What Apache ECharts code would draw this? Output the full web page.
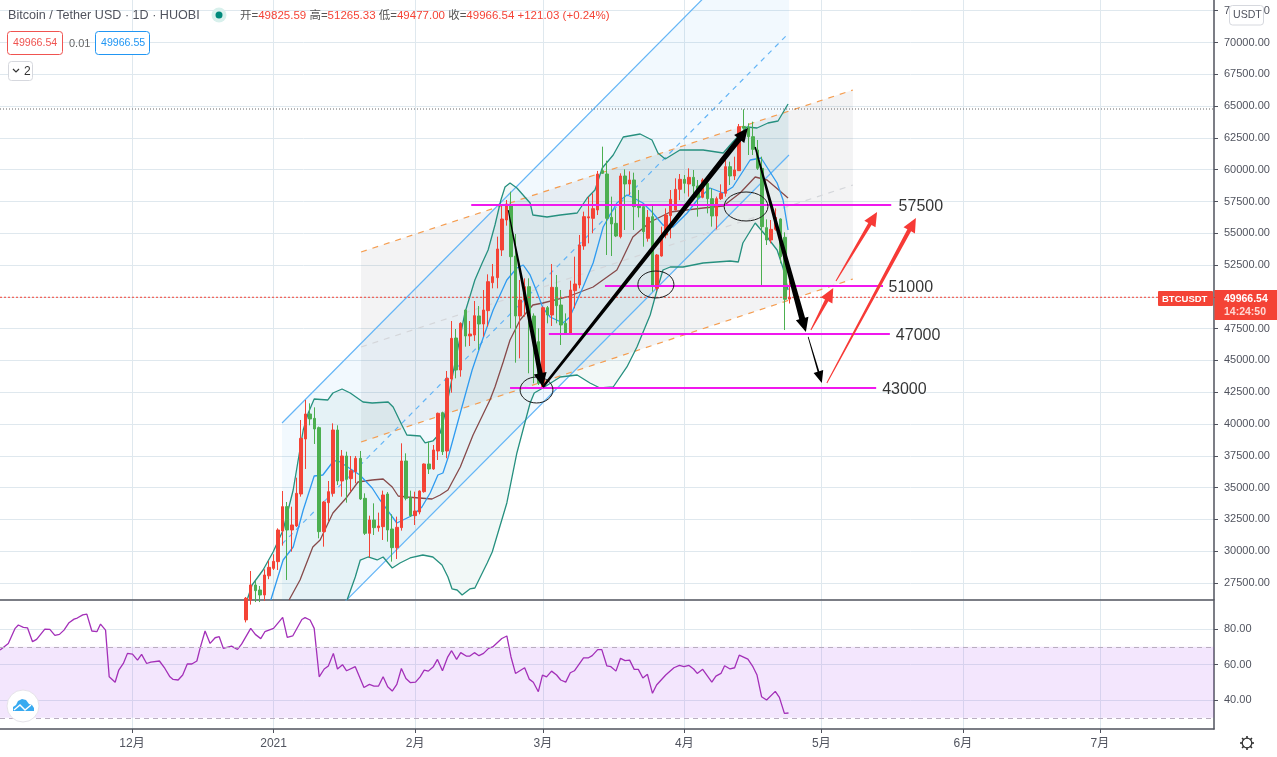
<!DOCTYPE html>
<html><head><meta charset="utf-8">
<style>html,body{margin:0;padding:0;background:#fff}#c{width:1277px;height:757px}</style>
<script src="https://cdn.jsdelivr.net/npm/echarts@6/dist/echarts.min.js"></script>
</head><body><div id="c"></div>
<script>
// x values are days counted from 2020-12-01
const monthDays = [0,31,62,90,121,151,182,212];
const monthLabels = ['12月','2021','2月','3月','4月','5月','6月','7月'];
const priceTicks = [27500,30000,32500,35000,37500,40000,42500,45000,47500,50000,52500,55000,57500,60000,62500,65000,67500,70000,72500];
const rsiTicks = [40,60,80];
const firstCandleDay = 25;
// open, close, low, high
const candles = [
[24600,26300,24400,26400],[26164,27344,25800,28444],[27344,26898,26000,27680],[26950,26557,26000,27265],[26557,28130,26100,28575],
[28065,28730,27800,29256],[28650,29204,28523,29755],[29178,31668,28523,31799],[31590,33503,30436,34735],[33503,31668,27737,33870],
[31668,32062,29965,33500],[31983,34551,31900,35783],[34499,38876,34289,40318],[38824,40789,36465,41890],[40789,40396,39900,41628],
[40448,39610,38430,41313],[39715,31537,31013,39800],[31537,33870,30358,33950],[33817,34682,32323,35521],[34551,39531,34289,40055],
[39531,35521,35206,39900],[35521,37487,34289,37958],[37487,35652,33817,37827],[35705,36334,34682,37487],[36255,37303,35337,37487],
[37303,34106,34027,37880],[34158,31406,31275,34551],[31406,32454,29519,32795],[32454,31852,31275,33765],[31852,31983,31537,33031],
[31930,34420,30882,34761],[34499,31668,30751,34650],[31747,30279,29179,32900],[30279,31878,29388,32717],[31852,37094,31616,38483],
[37094,34158,34000,37696],[34210,32795,32700,34761],[32795,33162,32061,34682],[33083,34735,32900,34780],[34682,36858,34600,36900],
[36858,36465,36072,38614],[36465,37958,36400,38352],[37880,40842,37172,40900],[40894,37827,37565,40970],[37880,43594,37303,44170],
[43541,46738,42466,48101],[46764,44248,43593,47472],[44248,47918,43724,48000],[48966,46922,46083,49000],[46922,47079,46135,48101],
[47000,48520,46529,49674],[48495,47865,45821,49280],[47865,48966,46869,50539],[48914,51194,47656,51771],[51115,51587,50670,52583],
[51508,53763,50670,54732],[53684,56121,53212,57222],[56043,57301,55600,57615],[57223,53160,47525,58271],[53212,48494,44825,54942],
[48494,49753,45166,51325],[49753,50801,48442,51456],[50801,48494,43987,51456],[48494,46600,43200,48700],[46476,43200,43069,47525],
[42938,49150,42800,49250],[49150,48573,47918,49280],[48573,50749,47708,52584],[50749,49307,47918,51719],[49360,47787,46214,50539],
[47918,47132,47100,48700],[47132,50539,47100,51273],[50487,51011,49097,53160],[50932,54077,50670,54864],[53999,56305,53700,56700],
[56208,56292,54208,57878],[56175,56935,55000,58140],[56830,59660,56436,59900],[59922,59713,59660,61810],[59660,56175,53291,60709],
[56253,55729,53212,57880],[55781,54785,54700,56961],[54733,59503,54600,59713],[59503,58874,55257,60027],[58874,59189,58009,59870],
[59189,57092,55257,59765],[57144,57013,56253,58402],[57092,55126,53946,57150],[54602,56253,54340,56830],[56305,50933,50408,57300],
[50670,53291,50480,53370],[53212,54812,53160,55519],[54864,56436,54602,56960],[56384,57668,54602,58402],[56830,58455,56800,59320],
[58455,59241,57600,59660],[59241,58927,58140,59580],[58874,59398,57879,60106],[59398,58717,57932,59975],[58717,57826,56305,59189],
[57826,59189,57750,59320],[58927,57721,56567,59189],[57721,56358,55519,58533],[56358,57721,55309,57879],[57721,58141,57616,58848],
[58141,60237,57879,60761],[60237,59503,58795,60630],[59503,59975,59188,61023],[59923,63382,59900,63592],[63400,63260,62203,64745],
[63330,62596,61154,63644],[62596,61600,61154,63775],[61547,60106,59975,62334],[60106,55519,50933,61023],[55440,54470,54078,56095],
[54470,55309,54208,56043],[55309,56253,55200,56960],[56122,53160,52636,56175],[54681,49805,47394,55074],[49825.59,49966.54,49477,51265.33]
];
const bbUpper = [[25.2,26164],[26.3,27343],[28.7,28522],[30.9,29937],[33.1,31668],[35.3,34813],[37.5,39531],[38.6,40868],[39.9,41969],[42.9,41890],[44,42440],[46,42755],[47.8,42440],[50.6,41733],[52.6,41654],[56.1,41733],[57.2,41340],[59.1,39924],[60.2,39138],[63.1,39059],[64.2,38509],[65.9,38666],[67.5,39295],[68.6,40868],[72.9,48730],[75.1,51325],[76.7,52662],[78,53684],[79.5,55650],[80.8,57616],[81.7,58638],[82.8,58953],[84.3,58559],[87.2,57380],[87.8,56436],[90.9,56279],[93.8,56436],[97.5,56594],[99.7,57773],[101.4,58402],[103,60132],[105.4,61154],[107.6,62570],[111.3,62806],[113.9,62334],[115.2,61312],[116.8,60840],[120,61547],[125.1,61547],[129.5,61312],[131.6,62177],[134.7,63356],[136.9,63277],[139.3,63670],[141.5,63828],[143.7,65164]];
const bbLower = [[47.1,26164],[48.9,27973],[50,29306],[51.7,29545],[53.7,29309],[55,29545],[57,28680],[58.7,29073],[60.9,29467],[63.7,29702],[65.9,29545],[67.9,28915],[69.2,27973],[70.1,27029],[71.2,26950],[72.3,26557],[74,27029],[75.1,27107],[77.8,29073],[78.9,29937],[82.1,33791],[84.3,37723],[87.2,41654],[88.1,42440],[90,42834],[93.8,43698],[97.5,43856],[100.3,43227],[102.5,42834],[105.4,42912],[108.4,44485],[110.6,46057],[113.5,48574],[115,50539],[116.3,52112],[117.9,52348],[120.7,52348],[125.1,52662],[131,52819],[132.8,52741],[133.8,54235],[136.5,55807],[139.1,54707],[141.3,53684],[142.6,52269],[143.7,50539]];
const bbBasis = [[34.4,26164],[36.8,27737],[39.6,30332],[41.2,30882],[44,33005],[47.1,34263],[49.5,35442],[52.6,35599],[55,35678],[57,35049],[58.3,34342],[60.2,34263],[65.7,34105],[67.5,34420],[69.2,34813],[71.9,36622],[74.7,39138],[78.4,41890],[79.5,42912],[81.3,44878],[82.8,46608],[85,48180],[87.8,49360],[90,49517],[95.3,49989],[101,50775],[106.2,52112],[107.3,52898],[109.7,54706],[113.5,55886],[117.9,56672],[125.1,56987],[129.5,57144],[133.2,58166],[136.5,59424],[139.1,59188],[143.7,57773]];
const maBlue = [[30.4,26164],[33.1,29309],[35.3,30332],[37.5,33240],[39.9,35914],[41.8,35993],[43.8,36936],[44.9,37172],[49.9,35993],[52.6,34971],[54.3,34027],[58,32218],[61.6,32847],[63.5,33476],[65.3,34578],[67,35993],[68.1,36150],[69.2,37330],[71.9,40868],[74.5,44249],[76.2,46057],[79.1,48966],[82.1,51325],[84.3,52269],[85.7,52505],[87.2,51719],[88.7,50382],[90,49124],[91.6,48416],[94.4,47944],[95.9,48416],[98.8,50775],[101,52662],[103.2,55493],[106.2,57380],[108.4,58009],[109.5,57852],[111.9,57380],[113.9,56672],[116.3,55650],[118.5,55493],[121.6,56594],[123.8,57616],[126.6,58559],[129.5,58166],[131.6,58638],[135.4,60761],[137.8,60918],[141.3,58953],[142.6,57616],[143.7,55257]];
const rsiValues = [[-28.9,68.2],[-27.1,71.9],[-25.6,80.4],[-24.9,82.3],[-23.8,80.9],[-22.9,80.7],[-21.8,72.9],[-20.9,74.2],[-19.1,80],[-18,79.8],[-16.9,76.4],[-15.9,77],[-14.9,79.4],[-13.8,83.6],[-12.7,85.6],[-12,86.2],[-10.8,88],[-9.9,88.4],[-8.8,78.9],[-7.7,78.5],[-6.9,82.8],[-5.8,79.4],[-5,53.1],[-3.7,50],[-2.9,56.9],[-1.9,60.6],[-1,66.3],[0.1,65.9],[1.2,62.5],[2.1,65.7],[3.2,60.6],[4.1,61.4],[6,62],[7.2,57.8],[8.3,53.1],[9,51.6],[10.1,51.3],[11.1,54.1],[12.1,60.3],[13.1,60.3],[14.2,62],[14.9,69.1],[16,78.9],[17.1,71.9],[18.2,75.1],[19.1,75.7],[20,69.1],[21.8,70.4],[23.1,68.5],[24,71.5],[26,80.4],[27,77],[28.2,74.6],[29.1,78.5],[31,80.4],[33,86.6],[34,75.3],[35.2,76.1],[37.2,85.4],[37.9,86.4],[39,85.1],[39.9,80.4],[41,53.1],[42.1,57.5],[43,59.2],[44.1,66.3],[45,57.5],[46.1,59.9],[47,56.5],[48.9,58.8],[50.8,47.1],[52,48.8],[53,47.9],[54,47.9],[55,53.1],[56,47.5],[57,45.1],[58,48.8],[59,57.8],[60,52.2],[61,49.8],[62.1,50.1],[63.1,53.1],[64,56.9],[64.9,56.3],[66,58.8],[66.9,62.9],[68,56.5],[69.1,64],[70,67.8],[71.1,62.9],[72,66.7],[73.2,64.8],[74,64.8],[75,66.7],[76,65],[77,66.3],[78.1,69.1],[79,69.9],[81,74.7],[82.1,76.1],[83,64.4],[84,55],[86,58.2],[87,51.8],[87.9,50],[89,44.7],[89.9,54.1],[90.8,53.1],[91.9,56.3],[93,54.1],[93.9,51.3],[95,50.1],[96,55.4],[96.9,56.5],[98.9,63.8],[100,63.8],[100.8,65],[102,68.4],[102.9,68.4],[104,59.3],[104.9,58.8],[106,56.3],[107,63.5],[108,62.2],[109,62.5],[110,57.3],[110.9,57.3],[111.9,52.4],[112.9,54.5],[114,43.8],[114.9,48.5],[116.9,54.1],[118.7,58.2],[119.9,59.5],[120.9,58.8],[122,59.5],[123,57.5],[123.8,55],[125,57.3],[127,50.1],[127.9,53.5],[129,55],[129.8,59.3],[131,57.5],[132,58.2],[133,65.3],[134.9,63.1],[136,58.8],[136.9,54.1],[137.9,41.9],[139,40],[140.9,44.9],[141.8,41.5],[142.9,32.5],[143.8,32.7]];
// drawn channels: start and end of each edge
const blueUpper = [[32.86,40081],[143.9,80261]];
const blueMid = [[32.86,30567],[143.9,70747]];
const blueLower = [[32.86,21053],[143.9,61154]];
const orangeUpper = [[50.16,53527],[157.9,66265]];
const greyMid = [[50.16,46057],[157.9,58795]];
const orangeLower = [[50.16,38588],[157.9,51404]];
// drawn levels: [label, price, from day, to day, label day]
const levels = [['57500',57225,74.3,166.3,167.8],['51000',50854,103.6,164.5,165.6],['47000',47080,91.3,166,167.2],['43000',42834,82.8,163,164.2]];
// drawn arrows: day, price, day, price
const blackArrows = [[82.4,56830,90,42912,1,5],[90,42912,134.9,63277,2.5,5.5],[136.5,61783,147.6,47237,1.5,6],[148.1,46844,151.1,43227,.8,1.8]];
const redArrows = [[148.7,47394,153.6,50696,1,3.8],[154.2,51247,163.2,56673,1,3.8],[152.2,43227,171.7,56201,1,4.2]];
// drawn ellipses: left day, top price, right day, bottom price
const ellipses = [[85,43698,92.2,41654],[110.8,52034,118.7,49911],[129.7,58245,139.3,55965]];
const highLine = 64771, lastPrice = 49966.54;
const rsiBandTop = 70, rsiBandBottom = 30;

const xMin=-28.92, xMax=237.0;
const FONT='"Liberation Sans","Noto Sans CJK SC",sans-serif';
const GRID='#dfe8ee', DARK='#50535e', RED='#f44336', GREEN='#4caf50';
const lineBase={type:'line',showSymbol:false,silent:true,animation:false,xAxisIndex:0,yAxisIndex:0};
const ln=(data,color,width,z,type)=>Object.assign({},lineBase,{data,z,lineStyle:{color,width,type:type||'solid'}});

const polygons=[
 {pts:[orangeUpper[0],orangeUpper[1],orangeLower[1],orangeLower[0]],fill:'rgba(120,123,134,0.09)'},
 {pts:[blueUpper[0],blueUpper[1],blueLower[1],blueLower[0]],fill:'rgba(33,150,243,0.06)'},
 {pts:bbUpper.concat(bbLower.slice().reverse()),fill:'rgba(38,140,125,0.06)'}
];
function polygonItem(p,api){const i=api.value(0);return{type:'polygon',shape:{points:polygons[i].pts.map(q=>api.coord(q))},style:{fill:polygons[i].fill},silent:true};}
function arrowItem(color){return function(p,api){
 const a=api.coord([api.value(0),api.value(1)]),b=api.coord([api.value(2),api.value(3)]);
 const w0=api.value(4)/2,w1=api.value(5)/2;
 const L=Math.hypot(b[0]-a[0],b[1]-a[1]),ux=(b[0]-a[0])/L,uy=(b[1]-a[1])/L,nx=-uy,ny=ux;
 const hl=w1>1?14:12,hw=w1>1?6.5:5;const m=[b[0]-ux*hl,b[1]-uy*hl];
 return{type:'polygon',shape:{points:[[a[0]+nx*w0,a[1]+ny*w0],[m[0]+nx*w1,m[1]+ny*w1],[m[0]+nx*hw,m[1]+ny*hw],b,[m[0]-nx*hw,m[1]-ny*hw],[m[0]-nx*w1,m[1]-ny*w1],[a[0]-nx*w0,a[1]-ny*w0]]},style:{fill:color},silent:true};
};}
function ellipseItem(p,api){const a=api.coord([api.value(0),api.value(1)]),b=api.coord([api.value(2),api.value(3)]);
 return{type:'ellipse',shape:{cx:(a[0]+b[0])/2,cy:(a[1]+b[1])/2,rx:(b[0]-a[0])/2,ry:(b[1]-a[1])/2},style:{fill:'none',stroke:'#1a1a1a',lineWidth:1},silent:true};}

const series=[
 {type:'custom',renderItem:polygonItem,data:[0,1,2],clip:true,z:1,silent:true,animation:false,xAxisIndex:0,yAxisIndex:0,encode:{x:-1,y:-1}},
 ln(orangeUpper,'#f59d50',1.2,2,[6,6]),ln(orangeLower,'#f59d50',1.2,2,[6,6]),ln(greyMid,'#d4d6da',1.2,2,[6,6]),
 ln(blueUpper,'#64b5f6',1.2,2),ln(blueLower,'#64b5f6',1.2,2),ln(blueMid,'#64b5f6',1.2,2,[5,5]),
 ln(bbUpper,'#26907f',1.3,3),ln(bbLower,'#26907f',1.3,3),ln(bbBasis,'#874a4a',1.3,3),ln(maBlue,'#2f9bf0',1.3,3),
 {type:'candlestick',xAxisIndex:0,yAxisIndex:0,z:4,silent:true,animation:false,barWidth:3,clip:true,
  data:candles.map((c,i)=>[firstCandleDay+i,c[0],c[1],c[2],c[3]]),encode:{x:0,y:[1,2,3,4]},
  itemStyle:{color:RED,color0:GREEN,borderColor:RED,borderColor0:GREEN,borderWidth:1}},
 ln([[xMin,highLine],[xMax,highLine]],'#666',1,5,[1,2]),
 ln([[xMin,lastPrice],[xMax,lastPrice]],RED,1,5,[2,2]),
 ...levels.map(l=>ln([[l[2],l[1]],[l[3],l[1]]],'#f018ee',2,6)),
 {type:'scatter',xAxisIndex:0,yAxisIndex:0,z:7,silent:true,animation:false,symbolSize:1,itemStyle:{color:'transparent'},
  data:levels.map(l=>({value:[l[4],l[1]],name:l[0]})),
  label:{show:true,position:'right',distance:0,offset:[0,1.5],formatter:p=>p.name,color:'#000',fontSize:16,fontFamily:FONT}},
 {type:'custom',renderItem:ellipseItem,data:ellipses,z:7,silent:true,animation:false,xAxisIndex:0,yAxisIndex:0},
 {type:'custom',renderItem:arrowItem('#000'),data:blackArrows,z:8,silent:true,animation:false,xAxisIndex:0,yAxisIndex:0,clip:false},
 {type:'custom',renderItem:arrowItem('#f73a36'),data:redArrows,z:8,silent:true,animation:false,xAxisIndex:0,yAxisIndex:0,clip:false},
 Object.assign({},lineBase,{xAxisIndex:1,yAxisIndex:1,data:rsiValues,z:4,lineStyle:{color:'#a32fb8',width:1.3},
  markArea:{silent:true,itemStyle:{color:'rgba(166,60,240,0.13)'},data:[[{yAxis:rsiBandTop,x:0},{yAxis:rsiBandBottom,x:1214}]]},
  markLine:{silent:true,symbol:'none',animation:false,label:{show:false},lineStyle:{color:'#b9adc0',type:[5,4],width:1},data:[{yAxis:rsiBandTop},{yAxis:rsiBandBottom}]}})
];
const axisCommon={type:'value',min:xMin,max:xMax,axisLine:{show:true,onZero:false,lineStyle:{color:DARK,width:1.5}},splitLine:{show:true,lineStyle:{color:GRID,width:1}}};
const rich={g:{fill:'#555',fontSize:11.5,fontFamily:FONT},r:{fill:'#f44336',fontSize:11.5,fontFamily:FONT}};
const txt=(x,y,text,fill,size,extra)=>({type:'text',x,y,z:50,silent:true,style:Object.assign({text,fill,font:(size||12)+'px '+FONT,textVerticalAlign:'middle'},extra||{})});
const box=(x,y,w,h,stroke,fill)=>({type:'rect',z:49,silent:true,shape:{x,y,width:w,height:h,r:3},style:{fill:fill||'#fff',stroke:stroke,lineWidth:1}});
const gearTeeth=[0,1,2,3,4,5,6,7].map(k=>{const a=k*Math.PI/4;return{type:'line',z:50,silent:true,shape:{x1:1247+Math.cos(a)*4.5,y1:743+Math.sin(a)*4.5,x2:1247+Math.cos(a)*7,y2:743+Math.sin(a)*7},style:{stroke:'#333',lineWidth:1.6}}});
const graphicEls=[
 txt(8,15.5,'Bitcoin / Tether USD · 1D · HUOBI','#50535e',12.6),
 {type:'circle',z:49,silent:true,shape:{cx:219,cy:15,r:7.5},style:{fill:'#d8f0ec'}},
 {type:'circle',z:50,silent:true,shape:{cx:219,cy:15,r:3.5},style:{fill:'#00897b'}},
 {type:'text',x:240,y:15.5,z:50,silent:true,style:{rich,textVerticalAlign:'middle',text:'{g|开=}{r|49825.59}{g| 高=}{r|51265.33}{g| 低=}{r|49477.00}{g| 收=}{r|49966.54}{r| +121.03 (+0.24%)}'}},
 box(7.5,31.5,55,23,'#f05350'),txt(13,43.5,'49966.54','#ef5350',10.6),
 txt(69,43.5,'0.01','#666',11),
 box(95.5,31.5,54,23,'#2196f3'),txt(101,43.5,'49966.55','#2196f3',10.6),
 box(8.5,61.5,24,19,'#d6d8de'),txt(24,71.5,'2','#333',12),
 {type:'polyline',z:50,silent:true,shape:{points:[[13,69],[16,72],[19,69]]},style:{stroke:'#333',fill:'none',lineWidth:1.2}},
 box(1229.5,5.5,34,19.5,'#d6d8de'),txt(1233,15.5,'USDT','#50535e',10.6),
 {type:'rect',z:49,silent:true,shape:{x:1158,y:291,width:55,height:15,r:1},style:{fill:RED}},
 txt(1162,299,'BTCUSDT','#fff',9.5,{font:'bold 9.5px '+FONT}),
 {type:'rect',z:49,silent:true,shape:{x:1214.5,y:290,width:62.5,height:30},style:{fill:RED}},
 txt(1224,299,'49966.54','#fff',10.5,{font:'bold 10.5px '+FONT}),txt(1224,312,'14:24:50','#ffd8d4',10.5,{font:'bold 10.5px '+FONT}),
 {type:'circle',z:49,silent:true,shape:{cx:23,cy:706,r:16},style:{fill:'#fff',stroke:'#e6e3ea',lineWidth:1}},
 {type:'polygon',z:50,silent:true,shape:{points:[[13,711],[13,707],[16,705],[18,701],[22,699],[26,700],[29,704],[32,705],[34,708],[34,711]]},style:{fill:'#38aaf0'}},
 {type:'polyline',z:51,silent:true,shape:{points:[[14,710],[20,705],[25,710],[31,705]]},style:{stroke:'#fff',fill:'none',lineWidth:1.4}},
 {type:'circle',z:50,silent:true,shape:{cx:1247,cy:743,r:4.8},style:{fill:'#fff',stroke:'#333',lineWidth:1.3}},
 ...gearTeeth
];
const chart=echarts.init(document.getElementById('c'),null,{renderer:'canvas'});
chart.setOption({
 animation:false,backgroundColor:'#fff',
 grid:[{left:0,right:63,top:0,height:600},{left:0,right:63,top:601,height:128}],
 xAxis:[
  Object.assign({},axisCommon,{gridIndex:0,axisLabel:{show:false},axisTick:{show:false,customValues:monthDays}}),
  Object.assign({},axisCommon,{gridIndex:1,axisTick:{show:true,length:4,customValues:monthDays,lineStyle:{color:DARK}},
   axisLabel:{show:true,customValues:monthDays,margin:9,color:DARK,fontSize:12,fontFamily:FONT,fontWeight:'normal',formatter:v=>monthLabels[monthDays.indexOf(v)]||''}})
 ],
 yAxis:[
  {type:'value',gridIndex:0,position:'right',min:26163,max:73342,axisLine:{show:true,onZero:false,lineStyle:{color:DARK,width:1.5}},axisTick:{show:true,length:4,inside:false,customValues:priceTicks,lineStyle:{color:DARK}},
   axisLabel:{show:true,customValues:priceTicks,margin:10,color:DARK,fontSize:11,fontFamily:FONT,formatter:v=>v.toFixed(2)},splitLine:{show:true,lineStyle:{color:GRID}}},
  {type:'value',gridIndex:1,position:'right',min:23.7,max:95.8,axisLine:{show:true,onZero:false,lineStyle:{color:DARK,width:1.5}},axisTick:{show:true,length:4,customValues:rsiTicks,lineStyle:{color:DARK}},
   axisLabel:{show:true,customValues:rsiTicks,margin:10,color:DARK,fontSize:11,fontFamily:FONT,formatter:v=>v.toFixed(2)},splitLine:{show:true,lineStyle:{color:GRID}}}
 ],
 series,graphic:{elements:graphicEls}
});
</script></body></html>
